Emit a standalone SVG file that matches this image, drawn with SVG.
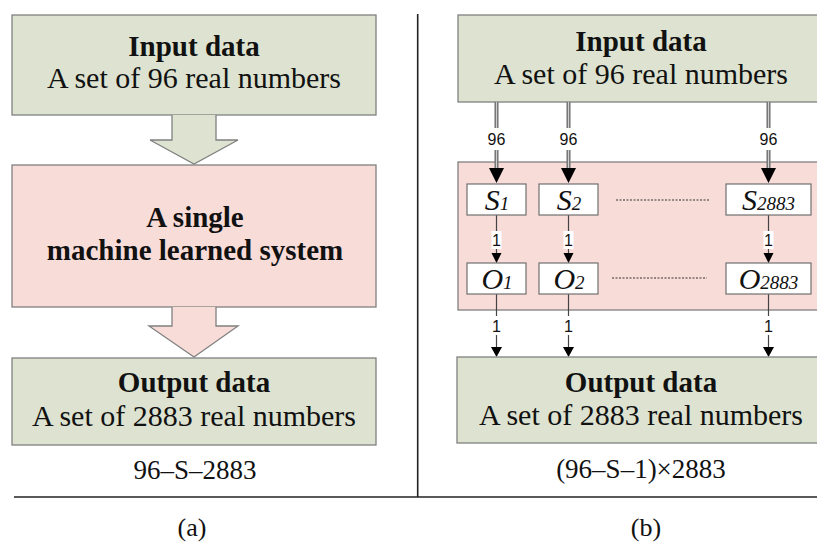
<svg xmlns="http://www.w3.org/2000/svg" width="817" height="543" viewBox="0 0 817 543">
<defs>
<style>
.green{fill:#dde3d0;stroke:#808080;stroke-width:1.3}
.pink{fill:#f8dcd8;stroke:#808080;stroke-width:1.3}
.white{fill:#ffffff;stroke:#707070;stroke-width:1.2}
.t{font-family:"Liberation Serif","Times New Roman",serif;fill:#111;text-anchor:middle}
.b{font-weight:bold;font-size:29px}
.r{font-size:30px}
.cap{font-size:27px}
.it{font-family:"Liberation Serif","Times New Roman",serif;font-style:italic;fill:#111;text-anchor:middle;font-size:30px}
.sub{font-size:19px}
.lbl{font-family:"Liberation Sans",Arial,sans-serif;font-size:16px;fill:#111;text-anchor:middle}
.dbl{stroke:#6e6e6e;stroke-width:4;fill:none}
.dbli{stroke:#cfcfcf;stroke-width:1.2;fill:none}
.thin{stroke:#444;stroke-width:1.2;fill:none}
.dot{stroke:#333;stroke-width:1.2;stroke-dasharray:2 1.5;fill:none}
.rule{stroke:#222;stroke-width:1.6;fill:none}
</style>
</defs>

<!-- frame lines -->
<g id="frame">
<line class="rule" x1="417.7" y1="14" x2="417.7" y2="497"/>
<line class="rule" x1="14" y1="497" x2="817" y2="497"/>
</g>

<!-- Panel (a) -->
<g id="a-input">
<rect class="green" x="12" y="15" width="364" height="100"/>
<text class="t b" x="194" y="56">Input data</text>
<text class="t r" x="194" y="88">A set of 96 real numbers</text>
</g>
<g id="a-arrow1">
<path class="green" d="M172,115 L172,140 L150,140 L194,164 L238,140 L216,140 L216,115"/>
</g>
<g id="a-system">
<rect class="pink" x="12" y="165" width="364" height="142"/>
<text class="t b" x="195" y="227">A single</text>
<text class="t b" x="195" y="260">machine learned system</text>
</g>
<g id="a-arrow2">
<path class="pink" d="M172,307 L172,326 L149,326 L194,357 L238,326 L216,326 L216,307"/>
</g>
<g id="a-output">
<rect class="green" x="12" y="358" width="364" height="87"/>
<text class="t b" x="194" y="392">Output data</text>
<text class="t r" x="194" y="426">A set of 2883 real numbers</text>
</g>
<g id="a-caption">
<text class="t cap" x="195" y="479">96–S–2883</text>
<text class="t" style="font-size:26px" x="192" y="536">(a)</text>
</g>

<!-- Panel (b) -->
<g id="b-input">
<rect class="green" x="458" y="15" width="370" height="87"/>
<text class="t b" x="641" y="51">Input data</text>
<text class="t r" x="641" y="84">A set of 96 real numbers</text>
</g>
<g id="b-system">
<rect class="pink" x="458" y="162" width="370" height="148"/>
</g>

<g id="connectors">
<!-- double lines 96 -->
<path class="dbl" d="M496.5,102 V128 M496.5,150 V170 M568.5,102 V128 M568.5,150 V170 M768.5,102 V128 M768.5,150 V170"/>
<path class="dbli" d="M496.5,102 V128 M496.5,150 V170 M568.5,102 V128 M568.5,150 V170 M768.5,102 V128 M768.5,150 V170"/>
<path fill="#000" d="M489,168 L504,168 L496.5,183 Z M561,168 L576,168 L568.5,183 Z M761,168 L776,168 L768.5,183 Z"/>
<text class="lbl" x="496.5" y="145">96</text>
<text class="lbl" x="568.5" y="145">96</text>
<text class="lbl" x="768.5" y="145">96</text>
<!-- S to O -->
<path class="thin" d="M496.5,215 V254 M568.5,215 V254 M768.5,215 V254"/>
<rect x="491.5" y="231" width="10" height="18" fill="#fff"/>
<rect x="563.5" y="231" width="10" height="18" fill="#fff"/>
<rect x="763.5" y="231" width="10" height="18" fill="#fff"/>
<text class="lbl" x="496.5" y="246">1</text>
<text class="lbl" x="568.5" y="246">1</text>
<text class="lbl" x="768.5" y="246">1</text>
<path fill="#000" d="M491.5,253 L501.5,253 L496.5,263 Z M563.5,253 L573.5,253 L568.5,263 Z M763.5,253 L773.5,253 L768.5,263 Z"/>
<!-- O to output -->
<path class="thin" d="M496.5,294 V316 M496.5,335 V348 M568.5,294 V316 M568.5,335 V348 M768.5,294 V316 M768.5,335 V348"/>
<text class="lbl" x="496.5" y="332">1</text>
<text class="lbl" x="568.5" y="332">1</text>
<text class="lbl" x="768.5" y="332">1</text>
<path fill="#000" d="M491,347 L502,347 L496.5,357 Z M563,347 L574,347 L568.5,357 Z M763,347 L774,347 L768.5,357 Z"/>
<!-- dotted -->
<path class="dot" d="M616,200 H709 M612,278 H707"/>
</g>

<g id="S1">
<rect class="white" x="467" y="184" width="59" height="31"/>
<text class="it" x="497" y="210">S<tspan class="sub">1</tspan></text>
</g>
<g id="S2">
<rect class="white" x="539" y="184" width="59" height="31"/>
<text class="it" x="569" y="210">S<tspan class="sub">2</tspan></text>
</g>
<g id="S2883">
<rect class="white" x="726" y="184" width="85" height="31"/>
<text class="it" x="768.5" y="210">S<tspan class="sub">2883</tspan></text>
</g>
<g id="O1">
<rect class="white" x="467" y="263" width="59" height="31"/>
<text class="it" x="497" y="289">O<tspan class="sub">1</tspan></text>
</g>
<g id="O2">
<rect class="white" x="539" y="263" width="59" height="31"/>
<text class="it" x="569" y="289">O<tspan class="sub">2</tspan></text>
</g>
<g id="O2883">
<rect class="white" x="726" y="263" width="85" height="31"/>
<text class="it" x="768.5" y="289">O<tspan class="sub">2883</tspan></text>
</g>

<g id="b-output">
<rect class="green" x="457" y="357" width="370" height="86"/>
<text class="t b" x="641" y="392">Output data</text>
<text class="t r" x="641" y="425">A set of 2883 real numbers</text>
</g>
<g id="b-caption">
<text class="t cap" x="641" y="478">(96–S–1)×2883</text>
<text class="t" style="font-size:26px" x="646" y="536">(b)</text>
</g>
</svg>
